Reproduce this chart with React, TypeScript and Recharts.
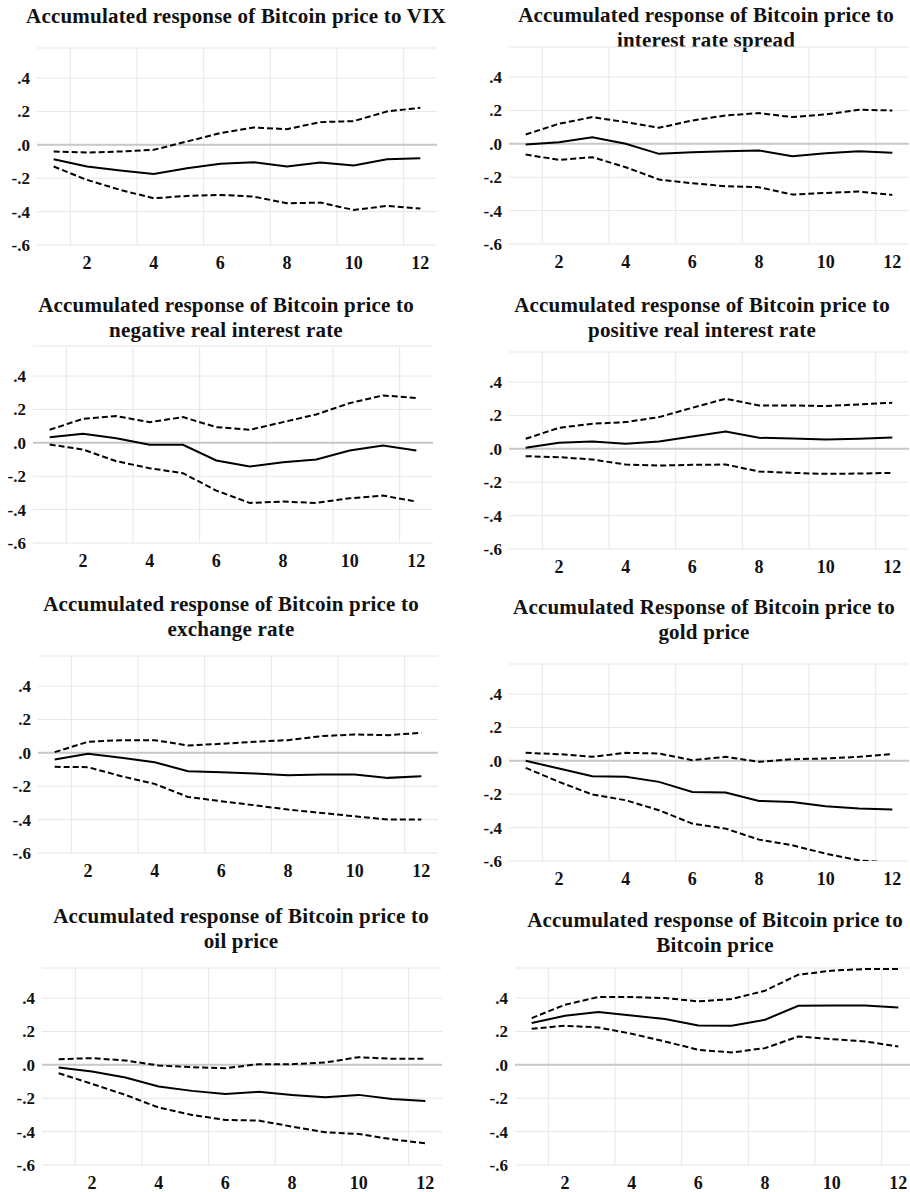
import React from "react";
import {
  CartesianGrid,
  Line,
  LineChart,
  ReferenceLine,
  XAxis,
  YAxis,
} from "recharts";

// periods after the shock
const steps = [1, 2, 3, 4, 5, 6, 7, 8, 9, 10, 11, 12];
const xTicks = [2, 4, 6, 8, 10, 12];
const yTicks = [-0.6, -0.4, -0.2, 0, 0.2, 0.4];
const yLabels = ["-.6", "-.4", "-.2", ".0", ".2", ".4"];
const gridX = [1.5, 3.5, 5.5, 7.5, 9.5, 11.5];

const titles = [
  ["Accumulated response of Bitcoin price to VIX"],
  ["Accumulated response of Bitcoin price to", "interest rate spread"],
  ["Accumulated response of Bitcoin price to", "negative real interest rate"],
  ["Accumulated response of Bitcoin price to", "positive real interest rate"],
  ["Accumulated response of Bitcoin price to", "exchange rate"],
  ["Accumulated Response of Bitcoin price to", "gold price"],
  ["Accumulated response of Bitcoin price to", "oil price"],
  ["Accumulated response of Bitcoin price to", "Bitcoin price"],
];

// VIX
const vixResp = [-0.086, -0.13, -0.154, -0.174, -0.14, -0.114, -0.104, -0.13, -0.106, -0.124, -0.086, -0.08];
const vixUp = [-0.04, -0.046, -0.04, -0.03, 0.02, 0.07, 0.104, 0.094, 0.136, 0.142, 0.2, 0.222];
const vixLo = [-0.13, -0.21, -0.27, -0.32, -0.306, -0.3, -0.31, -0.35, -0.346, -0.39, -0.366, -0.382];

// interest rate spread
const spreadResp = [-0.004, 0.01, 0.04, 0.0, -0.06, -0.05, -0.044, -0.04, -0.074, -0.056, -0.044, -0.054];
const spreadUp = [0.056, 0.12, 0.16, 0.13, 0.096, 0.14, 0.17, 0.184, 0.16, 0.176, 0.204, 0.2];
const spreadLo = [-0.064, -0.096, -0.08, -0.14, -0.214, -0.236, -0.254, -0.26, -0.304, -0.294, -0.286, -0.306];

// negative real interest rate
const negResp = [0.034, 0.054, 0.028, -0.012, -0.012, -0.106, -0.142, -0.116, -0.1, -0.046, -0.016, -0.046];
const negUp = [0.078, 0.144, 0.16, 0.124, 0.154, 0.094, 0.078, 0.124, 0.17, 0.238, 0.284, 0.268];
const negLo = [-0.01, -0.04, -0.11, -0.152, -0.182, -0.286, -0.36, -0.352, -0.36, -0.332, -0.316, -0.352];

// positive real interest rate
const posResp = [0.006, 0.036, 0.044, 0.03, 0.044, 0.074, 0.104, 0.066, 0.062, 0.056, 0.06, 0.068];
const posUp = [0.06, 0.126, 0.15, 0.16, 0.19, 0.246, 0.3, 0.26, 0.26, 0.256, 0.266, 0.276];
const posLo = [-0.044, -0.05, -0.064, -0.094, -0.1, -0.096, -0.094, -0.136, -0.144, -0.15, -0.148, -0.144];

// exchange rate
const fxResp = [-0.04, -0.006, -0.03, -0.056, -0.11, -0.116, -0.124, -0.134, -0.13, -0.13, -0.15, -0.14];
const fxUp = [0.004, 0.066, 0.076, 0.076, 0.044, 0.054, 0.066, 0.076, 0.1, 0.11, 0.106, 0.12];
const fxLo = [-0.084, -0.086, -0.14, -0.186, -0.264, -0.29, -0.314, -0.34, -0.36, -0.38, -0.4, -0.4];

// gold price
const goldResp = [0.0, -0.046, -0.092, -0.096, -0.126, -0.186, -0.19, -0.24, -0.246, -0.272, -0.286, -0.292];
const goldUp = [0.048, 0.04, 0.024, 0.048, 0.044, 0.004, 0.024, -0.006, 0.01, 0.014, 0.024, 0.04];
const goldLo = [-0.042, -0.126, -0.202, -0.236, -0.296, -0.376, -0.406, -0.472, -0.506, -0.556, -0.596, -0.612];

// oil price
const oilResp = [-0.016, -0.04, -0.076, -0.13, -0.156, -0.174, -0.162, -0.18, -0.194, -0.18, -0.204, -0.216];
const oilUp = [0.034, 0.04, 0.026, -0.004, -0.014, -0.02, 0.004, 0.004, 0.014, 0.046, 0.036, 0.036];
const oilLo = [-0.05, -0.114, -0.18, -0.256, -0.3, -0.33, -0.334, -0.37, -0.404, -0.414, -0.446, -0.47];

// Bitcoin price
const btcResp = [0.25, 0.294, 0.316, 0.296, 0.274, 0.236, 0.234, 0.27, 0.354, 0.356, 0.356, 0.344];
const btcUp = [0.28, 0.36, 0.406, 0.406, 0.4, 0.38, 0.394, 0.444, 0.54, 0.564, 0.574, 0.574];
const btcLo = [0.216, 0.234, 0.224, 0.186, 0.14, 0.09, 0.074, 0.1, 0.17, 0.154, 0.14, 0.11];

const series = [
  [vixResp, vixUp, vixLo],
  [spreadResp, spreadUp, spreadLo],
  [negResp, negUp, negLo],
  [posResp, posUp, posLo],
  [fxResp, fxUp, fxLo],
  [goldResp, goldUp, goldLo],
  [oilResp, oilUp, oilLo],
  [btcResp, btcUp, btcLo],
];

// where each panel sits on the page (left edge of plot, top of plot, title centre)
const layout = [
  { left: 36.7, top: 48, tx: 236, ty: 16 },
  { left: 508.7, top: 47, tx: 706, ty: 15 },
  { left: 33.3, top: 346, tx: 226, ty: 305 },
  { left: 508.7, top: 352, tx: 702, ty: 305 },
  { left: 38, top: 656, tx: 231, ty: 604 },
  { left: 508.7, top: 664, tx: 704, ty: 607 },
  { left: 41.7, top: 968, tx: 241, ty: 916 },
  { left: 515, top: 968, tx: 715, ty: 920 },
];

const FONT = "'Liberation Serif', 'Times New Roman', serif";
const AXIS_W = 50;
const PLOT_W = 400;
const PLOT_H = 197;
const PAD = 4;

// EViews style labels: ".4", ".0", "-.2"
function YTick(props: any) {
  const { x, y, payload } = props;
  const i = yTicks.findIndex((t) => Math.abs(t - Number(payload.value)) < 1e-6);
  return (
    <text
      x={x}
      y={y}
      dy={6}
      textAnchor="end"
      fontFamily={FONT}
      fontWeight="bold"
      fontSize={17}
      fill="#111"
    >
      {i >= 0 ? yLabels[i] : ""}
    </text>
  );
}

function Panel({ idx }: { idx: number }) {
  const [resp, up, lo] = series[idx];
  const pos = layout[idx];
  const rows = steps.map((s, i) => ({ step: s, resp: resp[i], up: up[i], lo: lo[i] }));
  const lines = titles[idx];

  return (
    <>
      <div
        style={{
          position: "absolute",
          left: pos.tx - 230,
          top: pos.ty - 12.5,
          width: 460,
          textAlign: "center",
          fontFamily: FONT,
          fontWeight: "bold",
          fontSize: 21,
          lineHeight: "25px",
          letterSpacing: 0.2,
          color: "#111",
          whiteSpace: "nowrap",
        }}
      >
        {lines.map((t) => (
          <div key={t}>{t}</div>
        ))}
      </div>
      <div
        style={{
          position: "absolute",
          left: pos.left - AXIS_W,
          top: pos.top - PAD,
        }}
      >
        <LineChart
          width={AXIS_W + PLOT_W + PAD}
          height={PAD + PLOT_H + 30}
          data={rows}
          margin={{ top: PAD, right: PAD, bottom: 0, left: 0 }}
        >
          <CartesianGrid vertical={false} stroke="#e6e6e6" />
          {gridX.map((g) => (
            <ReferenceLine key={g} x={g} stroke="#e6e6e6" />
          ))}
          <ReferenceLine y={0} stroke="#c8c8c8" strokeWidth={2} />
          <XAxis
            dataKey="step"
            type="number"
            domain={[0.5, 12.5]}
            ticks={xTicks}
            allowDataOverflow
            axisLine={false}
            tickLine={false}
            tickSize={0}
            tickMargin={11}
            height={30}
            tick={{ fontFamily: FONT, fontWeight: "bold", fontSize: 18, fill: "#111" }}
          />
          <YAxis
            type="number"
            domain={[-0.6, 0.58]}
            ticks={yTicks}
            allowDataOverflow
            axisLine={false}
            tickLine={false}
            tickSize={0}
            tickMargin={7}
            width={AXIS_W}
            tick={<YTick />}
          />
          <Line
            dataKey="up"
            stroke="#000"
            strokeWidth={2}
            strokeDasharray="6 3"
            dot={false}
            isAnimationActive={false}
          />
          <Line
            dataKey="lo"
            stroke="#000"
            strokeWidth={2}
            strokeDasharray="6 3"
            dot={false}
            isAnimationActive={false}
          />
          <Line
            dataKey="resp"
            stroke="#000"
            strokeWidth={2}
            dot={false}
            isAnimationActive={false}
          />
        </LineChart>
      </div>
    </>
  );
}

export default function App() {
  return (
    <div
      style={{
        position: "absolute",
        left: 0,
        top: 0,
        width: 910,
        height: 1192,
        background: "#fff",
        overflow: "hidden",
      }}
    >
      {series.map((_, i) => (
        <Panel key={i} idx={i} />
      ))}
    </div>
  );
}
